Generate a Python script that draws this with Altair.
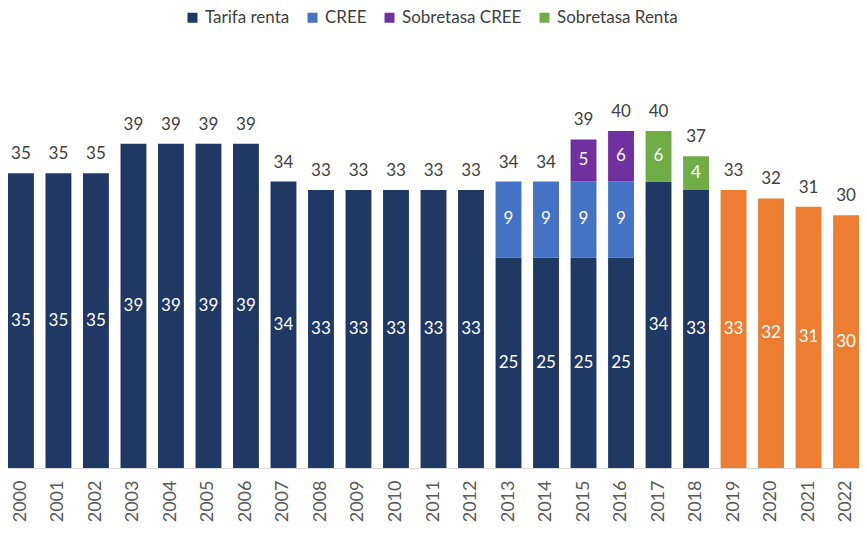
import altair as alt
import pandas as pd

years = [str(y) for y in range(2000, 2023)]
tarifa_renta = [35, 35, 35, 38.5, 38.5, 38.5, 38.5, 34, 33, 33, 33, 33, 33,
                25, 25, 25, 25, 34, 33, 33, 32, 31, 30]
cree = [0] * 13 + [9, 9, 9, 9] + [0] * 6
sobretasa_cree = [0] * 15 + [5, 6] + [0] * 6
sobretasa_renta = [0] * 17 + [6, 4] + [0] * 4
first_projected_year = 2019

series_names = ["Tarifa renta", "CREE", "Sobretasa CREE", "Sobretasa Renta"]
series_values = [tarifa_renta, cree, sobretasa_cree, sobretasa_renta]
color_domain = ["Tarifa renta", "CREE", "Sobretasa CREE", "Sobretasa Renta", "Proyección"]
color_range = ["#203864", "#4472C4", "#7030A0", "#70AD47", "#ED7D31"]


def fmt(v):
    return str(int(v + 0.5))


rows = []
tot_rows = []
for i, y in enumerate(years):
    cum = 0.0
    for name, vals in zip(series_names, series_values):
        v = vals[i]
        if v <= 0:
            continue
        key = name
        if name == "Tarifa renta" and int(y) >= first_projected_year:
            key = "Proyección"
        rows.append({"anio": y, "serie": name, "clave": key, "base": cum,
                     "top": cum + v, "mid": cum + v / 2, "label": fmt(v)})
        cum += v
    tot_rows.append({"anio": y, "total": cum, "tlabel": fmt(cum)})

df = pd.DataFrame(rows)
df_tot = pd.DataFrame(tot_rows)

x_enc = alt.X(
    "anio:N", sort=years,
    scale=alt.Scale(paddingInner=0.31, paddingOuter=0.0),
    axis=alt.Axis(title=None, labelAngle=-90, labelFontSize=18, labelFont="Lato",
                  labelColor="#595959", labelPadding=12, ticks=False,
                  domainColor="#D9D9D9", domainWidth=1, grid=False),
)
y_scale = alt.Scale(domain=[0, 54.6], nice=False, zero=True)

bars = alt.Chart(df).mark_bar().encode(
    x=x_enc,
    y=alt.Y("base:Q", scale=y_scale, axis=None),
    y2="top:Q",
    color=alt.Color(
        "clave:N",
        scale=alt.Scale(domain=color_domain, range=color_range),
        legend=alt.Legend(values=series_names, orient="none", legendX=176, legendY=1,
                          direction="horizontal", title=None, symbolType="square",
                          symbolSize=100, symbolStrokeWidth=0, labelFontSize=17,
                          labelFont="Lato", labelColor="#404040", columnPadding=14,
                          labelOffset=4, labelLimit=300),
    ),
)

inside = alt.Chart(df).mark_text(color="white", fontSize=17, font="Lato",
                                 baseline="middle").encode(
    x=alt.X("anio:N", sort=years),
    y=alt.Y("mid:Q", scale=y_scale, axis=None),
    text="label:N",
)

totals = alt.Chart(df_tot).mark_text(color="#404040", fontSize=17, font="Lato",
                                     baseline="alphabetic", dy=-14).encode(
    x=alt.X("anio:N", sort=years),
    y=alt.Y("total:Q", scale=y_scale, axis=None),
    text="tlabel:N",
)

chart = alt.layer(bars, inside, totals).properties(
    width=851, height=460,
    padding={"left": 0, "top": 0, "right": 0, "bottom": 0},
).configure_view(stroke=None)

chart.save("out.html", embed_options={"renderer": "svg", "actions": False})
